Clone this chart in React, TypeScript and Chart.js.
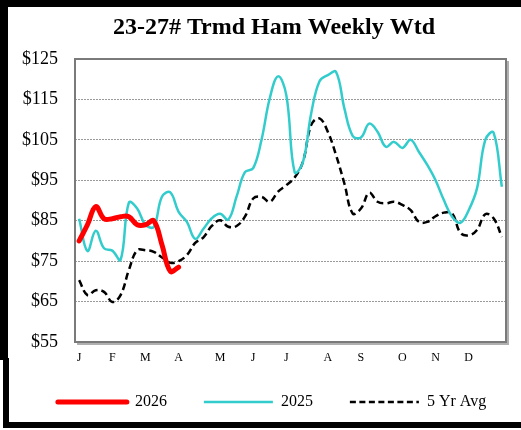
import React, { useEffect, useRef } from 'react';
import { Chart, registerables } from 'chart.js';

Chart.register(...registerables);

const titleText = '23-27# Trmd Ham Weekly Wtd';
const monthLabels = ['J', 'F', 'M', 'A', 'M', 'J', 'J', 'A', 'S', 'O', 'N', 'D'];
const monthStartWeeks = [0, 4, 8, 12, 17, 21, 25, 30, 34, 39, 43, 47];
const weekCount = 52;

const yTickMin = 55;
const yTickMax = 125;
const yTickStep = 10;

const seriesNames = ['2026', '2025', '5 Yr Avg'];

const values2026 = [80, 84, 88.5, 85.5, 85.5, 86, 86, 84, 84, 85, 79, 72.5, 73.5];

const values2025 = [
  85.5, 77.5, 82.5, 78.2, 77.6, 75.3, 89.5, 88, 84, 83.5,
  91, 92, 87.2, 84.7, 80.5, 83, 85.6, 86.7, 85.3, 91,
  97, 98, 105, 115.3, 120.7, 116, 97, 99.5, 111.6, 119.5,
  121, 121.8, 112.8, 106, 105.6, 109, 107, 103.3, 104.5, 103,
  105, 102, 98.8, 95, 90.1, 86, 84.5, 87.6, 93, 105,
  106.8, 93.4,
];

const values5YrAvg = [
  70.3, 66.6, 67.8, 67.4, 64.9, 66.6, 72.8, 77.7, 77.7, 77.3,
  75.9, 74.6, 75, 76.5, 79.5, 80.9, 83.7, 85.1, 83.5, 83.7,
  86, 90.5, 90.9, 89.7, 92.2, 93.8, 95.7, 99.6, 108.7, 110.3,
  107, 101.2, 94.2, 86.8, 88, 91.9, 89.7, 89.3, 89.7, 88.9,
  87.6, 84.7, 84.7, 86.1, 87, 86.8, 82, 81.4, 82.7, 86.6,
  85.6, 81,
];

const weekLabels: string[] = [];
for (let i = 0; i < weekCount; i++) {
  const m = monthStartWeeks.indexOf(i);
  weekLabels.push(m >= 0 ? monthLabels[m] : '');
}

const FONT = '"Liberation Serif", "Times New Roman", serif';

const plotFramePlugin = {
  id: 'plotFrame',
  beforeDatasetsDraw(chart: any) {
    const { ctx, chartArea } = chart;
    const { left, top, right, bottom } = chartArea;
    ctx.save();
    ctx.strokeStyle = '#b0b0b0';
    ctx.lineWidth = 2;
    ctx.beginPath();
    ctx.moveTo(right + 2, top + 2);
    ctx.lineTo(right + 2, bottom + 2);
    ctx.lineTo(left + 2, bottom + 2);
    ctx.stroke();
    ctx.strokeStyle = '#7a7a7a';
    ctx.lineWidth = 2;
    ctx.strokeRect(left, top, right - left, bottom - top);
    ctx.restore();
  },
};

// nudge title and legend boxes to sit where the reference places them
const blockShiftPlugin = {
  id: 'blockShift',
  afterLayout(chart: any) {
    const t = chart.titleBlock;
    if (t) {
      t.left += 21;
      t.right += 21;
    }
    const l = chart.legend;
    if (l) {
      l.left += 19;
      l.right += 19;
      l.top -= 7;
      l.bottom -= 7;
    }
  },
};

export default function App() {
  const canvasRef = useRef<HTMLCanvasElement | null>(null);

  useEffect(() => {
    if (!canvasRef.current) return;
    const defaultGen = (Chart.defaults as any).plugins.legend.labels.generateLabels;
    const chart = new Chart(canvasRef.current, {
      type: 'line',
      data: {
        labels: weekLabels,
        datasets: [
          {
            label: seriesNames[0],
            data: values2026,
            borderColor: '#ff0000',
            backgroundColor: '#ff0000',
            borderWidth: 5,
            borderCapStyle: 'round',
            borderJoinStyle: 'round',
            tension: 0.4,
            pointRadius: 0,
            fill: false,
          },
          {
            label: seriesNames[1],
            data: values2025,
            borderColor: '#33cccc',
            backgroundColor: '#33cccc',
            borderWidth: 2.5,
            tension: 0.4,
            pointRadius: 0,
            fill: false,
          },
          {
            label: seriesNames[2],
            data: values5YrAvg,
            borderColor: '#000000',
            backgroundColor: '#000000',
            borderWidth: 2.5,
            borderDash: [7, 4],
            tension: 0.4,
            pointRadius: 0,
            fill: false,
          },
        ],
      },
      options: {
        responsive: false,
        animation: false,
        layout: { padding: { left: 0, right: 15, top: 0, bottom: 3 } },
        plugins: {
          title: {
            display: true,
            text: titleText,
            color: '#000',
            font: { family: FONT, size: 24, weight: 'bold' },
            padding: { top: 13.6, bottom: 16.6 },
          },
          legend: {
            display: true,
            position: 'bottom',
            labels: {
              usePointStyle: true,
              pointStyle: 'line',
              pointStyleWidth: 69,
              padding: 37,
              color: '#000',
              font: { family: FONT, size: 16 },
              generateLabels: (c: any) =>
                defaultGen(c).map((item: any) => {
                  const ds = c.data.datasets[item.datasetIndex];
                  return {
                    ...item,
                    lineDash: ds.borderDash ? [6, 3.5] : [],
                    lineWidth: ds.datasetIndex === 0 ? 6 : ds.borderWidth,
                    lineCap: ds.borderCapStyle || 'butt',
                    strokeStyle: ds.borderColor,
                  };
                }),
            },
          },
          tooltip: { enabled: false },
        },
        scales: {
          x: {
            type: 'category',
            offset: true,
            grid: { display: false, drawTicks: false },
            border: { display: false },
            ticks: {
              autoSkip: false,
              maxRotation: 0,
              padding: 9,
              color: '#000',
              font: { family: FONT, size: 12 },
            },
            afterFit(scale: any) {
              scale.height = 22;
            },
          },
          y: {
            min: yTickMin,
            max: yTickMax,
            grid: {
              drawTicks: false,
              color: (ctx: any) =>
                ctx.tick && (ctx.tick.value === yTickMin || ctx.tick.value === yTickMax)
                  ? 'rgba(0,0,0,0)'
                  : '#9a9a9a',
              lineWidth: 1,
            },
            border: { display: false, dash: [2, 1] },
            ticks: {
              stepSize: yTickStep,
              padding: 17,
              color: '#000',
              font: { family: FONT, size: 18 },
              callback: (v: any) => '$' + v,
            },
            afterFit(scale: any) {
              scale.width = 75;
            },
          },
        },
      },
      plugins: [plotFramePlugin, blockShiftPlugin],
    } as any);
    return () => chart.destroy();
  }, []);

  const bar = (s: React.CSSProperties) => (
    <div style={{ position: 'absolute', background: '#000', ...s }} />
  );

  return (
    <div style={{ position: 'fixed', left: 0, top: 0, width: 521, height: 430, background: '#fff', overflow: 'hidden' }}>
      <canvas ref={canvasRef} width={521} height={430} style={{ position: 'absolute', left: 0, top: 0 }} />
      {bar({ left: 0, top: 0, width: 521, height: 7 })}
      {bar({ left: 0, top: 0, width: 8, height: 360 })}
      {bar({ left: 3, top: 358, width: 6, height: 70 })}
      {bar({ left: 3, top: 422, width: 518, height: 6 })}
    </div>
  );
}
